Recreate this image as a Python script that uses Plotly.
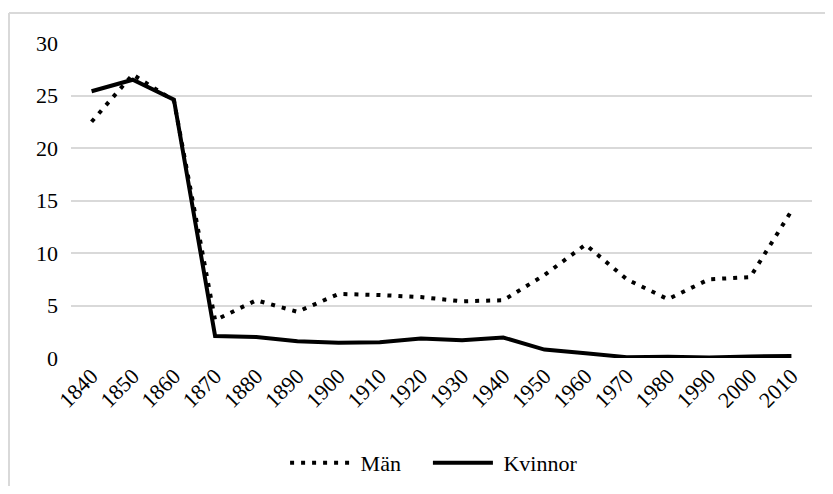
import plotly.graph_objects as go

years = ["1840", "1850", "1860", "1870", "1880", "1890", "1900", "1910", "1920",
         "1930", "1940", "1950", "1960", "1970", "1980", "1990", "2000", "2010"]
man = [22.5, 27.0, 24.5, 3.6, 5.5, 4.4, 6.1, 6.0, 5.8, 5.4, 5.5, 7.9, 10.8, 7.5, 5.6, 7.5, 7.7, 14.0]
kvinnor = [25.4, 26.5, 24.6, 2.1, 2.0, 1.6, 1.45, 1.5, 1.85, 1.7, 1.95, 0.8, 0.45, 0.08, 0.12, 0.05, 0.15, 0.18]
y_ticks = [0, 5, 10, 15, 20, 25, 30]

FONT = "'Liberation Serif', 'Times New Roman', serif"
NB = "\u00a0"

fig = go.Figure()
fig.add_trace(go.Scatter(x=years, y=man, name=NB + "Män" + NB * 4, mode="lines",
                         line=dict(color="black", width=4, dash="4px,7px")))
fig.add_trace(go.Scatter(x=years, y=kvinnor, name=NB + "Kvinnor", mode="lines",
                         line=dict(color="black", width=4)))

# page has an 8px body margin; figure sized to fit inside the window
OFF = 8
W, H = 833 - 2 * OFF, 494 - 2 * OFF
L, T = 71 - OFF, 43 - OFF
R = W - (812 - OFF)
B = H - (358 - OFF)
pw = W - L - R
ph = H - T - B

def px_x(p):
    return (p - OFF - L) / pw

def px_y(p):
    return (H - B - (p - OFF)) / ph

fig.add_shape(type="line", xref="paper", yref="paper",
              x0=px_x(9), x1=px_x(840), y0=px_y(13), y1=px_y(13),
              line=dict(color="#d9d9d9", width=2), layer="above")
fig.add_shape(type="line", xref="paper", yref="paper",
              x0=px_x(9), x1=px_x(9), y0=px_y(13), y1=px_y(520),
              line=dict(color="#d9d9d9", width=2), layer="above")

fig.update_layout(
    template="none",
    width=W, height=H,
    margin=dict(l=L, r=R, t=T, b=B, autoexpand=False),
    paper_bgcolor="white", plot_bgcolor="white",
    font=dict(family=FONT, size=22, color="black"),
    showlegend=True,
    legend=dict(orientation="h", x=0.49, xanchor="center", y=px_y(463), yanchor="middle",
                font=dict(family=FONT, size=22, color="black"), itemwidth=60,
                bgcolor="rgba(0,0,0,0)"),
    xaxis=dict(type="category", range=[-0.5, len(years) - 0.5], showgrid=False,
               showline=False, ticks="", tickangle=-45, automargin=False,
               tickfont=dict(family=FONT, size=22, color="black")),
    yaxis=dict(range=[0, 30], tickvals=y_ticks, showgrid=True, gridcolor="#d9d9d9",
               gridwidth=1.5, zeroline=False, showline=False, ticks="", automargin=False,
               ticklabelstandoff=12,
               tickfont=dict(family=FONT, size=22, color="black")),
)

fig.write_html("out.html")
